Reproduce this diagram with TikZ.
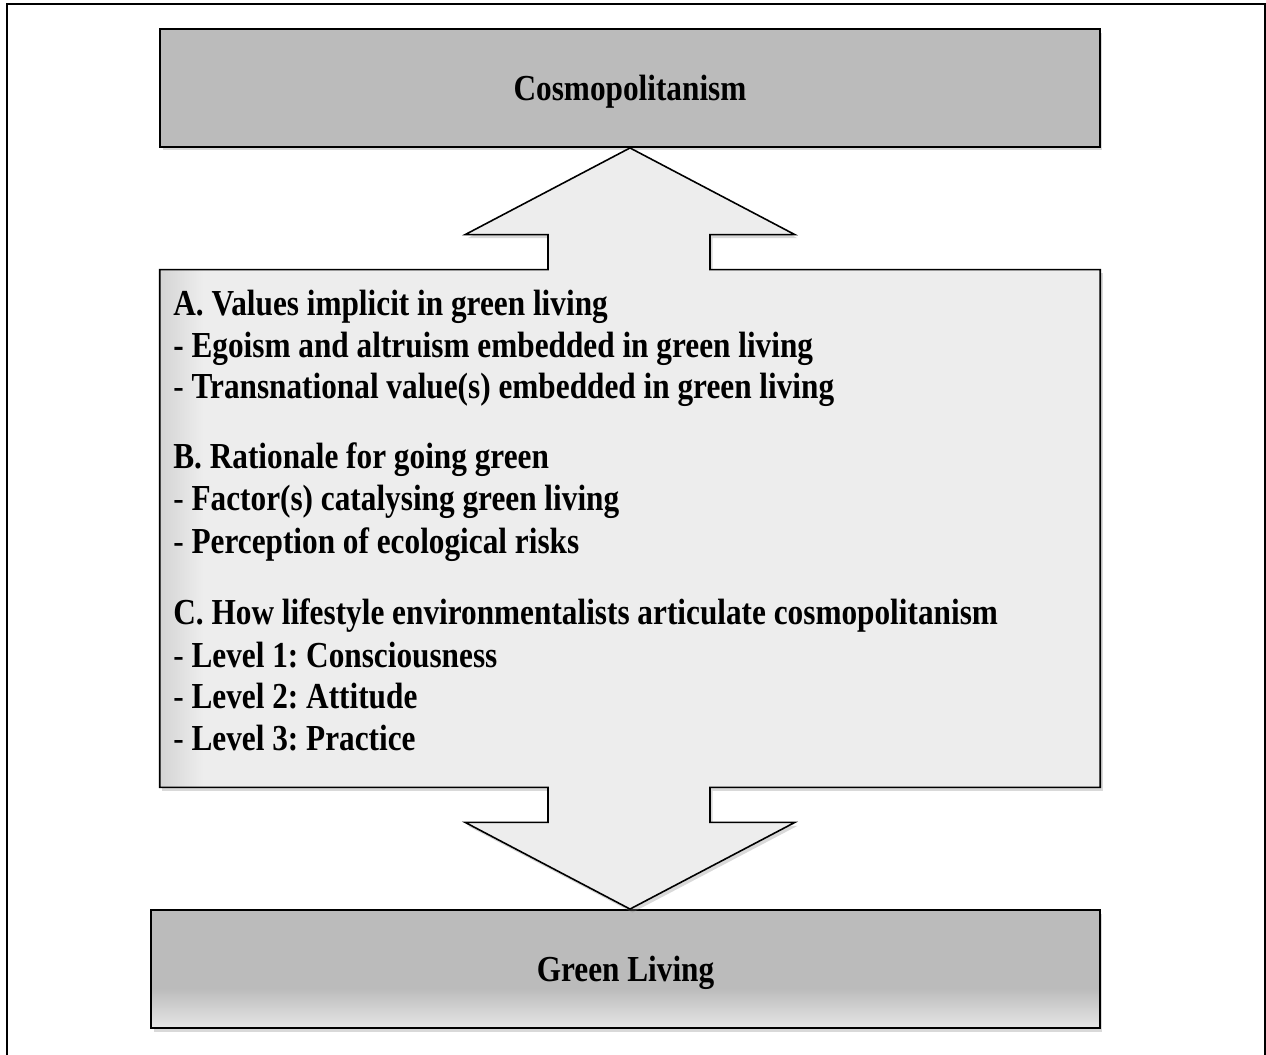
\documentclass[tikz,border=0pt]{standalone}
\usepackage{graphicx}
\usepackage{fontspec}
\setmainfont{Liberation Serif}
\usetikzlibrary{shadows,calc}
\definecolor{mygray}{HTML}{BBBBBB}
\definecolor{mylight}{HTML}{EDEDED}
\definecolor{mydark}{HTML}{D4D4D4}
\definecolor{mypale}{HTML}{E6E6E6}
\pgfdeclarehorizontalshading{panelshade}{100bp}{color(0bp)=(mydark); color(25bp)=(mydark); color(27.3bp)=(mylight); color(100bp)=(mylight)}
\pgfdeclareverticalshading{greenshade}{100bp}{color(0bp)=(mypale); color(25bp)=(mypale); color(42bp)=(mygray); color(100bp)=(mygray)}
\newcommand{\tallbox}[1]{\scalebox{1}[1.17]{#1}}
\frenchspacing

\begin{document}
\begin{tikzpicture}[x=0.02cm,y=-0.02cm,
  myshadow/.style={drop shadow={shadow xshift=0.05cm,shadow yshift=-0.07cm,opacity=0.3}},
  boxtext/.style={font=\fontsize{17.8}{21}\selectfont\bfseries,inner sep=0pt},
  bigbox/.style={draw=black,line width=1.1pt,fill=mygray,minimum width=18.8cm,minimum height=2.36cm,myshadow},
  itemline/.style={boxtext,anchor=base west}]
\useasboundingbox (0,0) rectangle (1266,1054);
% frame round the figure
\draw[line width=1.4pt] (7,1070) -- (7,4) -- (1265,4) -- (1265,1070);
% the two grey boxes
\node[bigbox] (cosmo) at (630,88) {};
\node[boxtext,anchor=base] (cosmolabel) at (630,101) {\tallbox{Cosmopolitanism}};
\node[bigbox,minimum width=18.98cm,shade,shading=greenshade] (green) at (625.5,969) {};
\node[boxtext,anchor=base] (greenlabel) at (625.5,981) {\tallbox{Green Living}};
% middle panel with both arrows
\node[minimum width=18.8cm,minimum height=10.34cm,inner sep=0pt] (themes) at (630,528.5) {};
\draw[line width=0.9pt,shade,shading=panelshade,myshadow]
  (themes.north west) -- ($(themes.north)+(-82,0)$) -- ++(0,-35) -- ++(-83,0)
  -- (cosmo.south) -- ($(themes.north)+(165,-35)$) -- ++(-85,0) -- ++(0,35)
  -- (themes.north east) -- (themes.south east)
  -- ($(themes.south)+(80,0)$) -- ++(0,35) -- ++(85,0)
  -- (cosmo.south |- green.north) -- ($(themes.south)+(-165,35)$) -- ++(83,0) -- ++(0,-35)
  -- (themes.south west) -- cycle;
% the list of themes
\foreach \y/\t [count=\i] in {
  315/{A. Values implicit in green living},
  357/{- Egoism and altruism embedded in green living},
  398/{{\mdseries -} Transnational value(s) embedded in green living},
  468/{B. Rationale for going green},
  510/{{\mdseries -} Factor(s) catalysing green living},
  553/{{\mdseries -} Perception of ecological risks},
  624/{C. How lifestyle environmentalists articulate cosmopolitanism},
  667/{{\mdseries -} Level 1: Consciousness},
  708/{{\mdseries -} Level 2: Attitude},
  750/{{\mdseries -} Level 3: Practice}}
  \node[itemline] (item\i) at (173,\y) {\tallbox{\t}};
\end{tikzpicture}
\end{document}
